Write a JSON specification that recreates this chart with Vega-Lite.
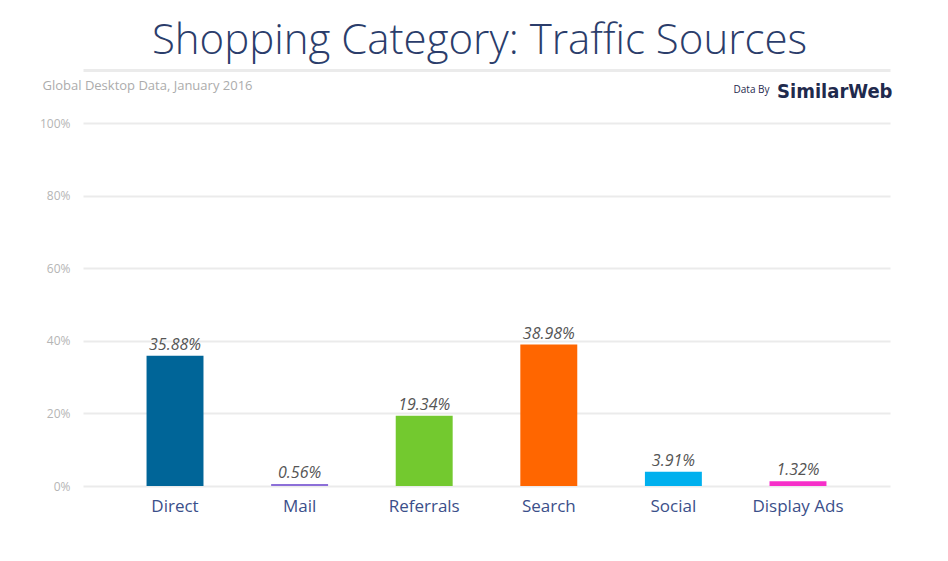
{
  "$schema": "https://vega.github.io/schema/vega-lite/v6.json",
  "width": 807,
  "height": 363,
  "autosize": {"type": "none"},
  "padding": {"left": 83, "top": 123, "right": 58, "bottom": 75},
  "background": "white",
  "config": {
    "font": "Open Sans",
    "view": {"stroke": null}
  },
  "title": {
    "text": "Shopping Category: Traffic Sources",
    "font": "Open Sans",
    "fontWeight": 300,
    "fontSize": 42,
    "color": "#2b3d6b",
    "anchor": "middle",
    "dx": -7,
    "baseline": "alphabetic",
    "offset": -26
  },
  "data": {
    "values": [
      {"source": "Direct", "share": 0.3588},
      {"source": "Mail", "share": 0.0056},
      {"source": "Referrals", "share": 0.1934},
      {"source": "Search", "share": 0.3898},
      {"source": "Social", "share": 0.0391},
      {"source": "Display Ads", "share": 0.0132}
    ]
  },
  "encoding": {
    "x": {
      "field": "source",
      "type": "nominal",
      "sort": null,
      "scale": {"paddingInner": 0.543, "paddingOuter": 0.51}
    },
    "y": {
      "field": "share",
      "type": "quantitative",
      "scale": {"domain": [0, 1], "nice": false}
    }
  },
  "layer": [
    {
      "mark": {"type": "bar"},
      "encoding": {
        "x": {
          "field": "source",
          "type": "nominal",
          "sort": null,
          "axis": {
            "orient": "bottom",
            "labelAngle": 0,
            "labelFont": "Open Sans",
            "labelFontSize": 17,
            "labelColor": "#3b4f8a",
            "labelPadding": 12,
            "ticks": false,
            "domain": false,
            "title": "SimilarWeb",
            "titleFont": "DejaVu Sans Condensed",
            "titleFontWeight": "bold",
            "titleFontSize": 20,
            "titleColor": "#1f2a4d",
            "titleAlign": "right",
            "titleBaseline": "alphabetic",
            "titleAnchor": "start",
            "titleX": 809,
            "titleY": -389
          }
        },
        "y": {
          "field": "share",
          "type": "quantitative",
          "axis": {
            "format": ".0%",
            "values": [0, 0.2, 0.4, 0.6, 0.8, 1],
            "labelFont": "Open Sans",
            "labelFontSize": 12,
            "labelColor": "#b5b5b5",
            "labelPadding": 13,
            "ticks": false,
            "domain": false,
            "grid": true,
            "gridColor": "#ebebeb",
            "gridWidth": 2,
            "title": "Global Desktop Data, January 2016",
            "titleFont": "Open Sans",
            "titleFontWeight": "normal",
            "titleFontSize": 13,
            "titleColor": "#acacac",
            "titleAngle": 0,
            "titleAlign": "left",
            "titleBaseline": "alphabetic",
            "titleX": -41,
            "titleY": -34
          }
        },
        "color": {
          "field": "source",
          "type": "nominal",
          "sort": null,
          "legend": null,
          "scale": {
            "domain": ["Direct", "Mail", "Referrals", "Search", "Social", "Display Ads"],
            "range": ["#006598", "#8c6fd8", "#73c92f", "#ff6600", "#00b0ee", "#f62fc9"]
          }
        }
      }
    },
    {
      "mark": {
        "type": "text",
        "baseline": "alphabetic",
        "dy": -6,
        "font": "Open Sans",
        "fontStyle": "italic",
        "fontSize": 16,
        "color": "#555555"
      },
      "encoding": {
        "x": {
          "field": "source",
          "type": "nominal",
          "sort": null,
          "axis": {
            "orient": "top",
            "offset": 53,
            "labels": false,
            "ticks": false,
            "grid": false,
            "domain": true,
            "domainColor": "#ebebeb",
            "domainWidth": 3,
            "title": "Data By",
            "titleFont": "Open Sans",
            "titleFontWeight": "normal",
            "titleFontSize": 10,
            "titleColor": "#1f2a4d",
            "titleAlign": "left",
            "titleBaseline": "alphabetic",
            "titleAnchor": "start",
            "titleX": 650,
            "titleY": 22
          }
        },
        "text": {"field": "share", "type": "quantitative", "format": ".2%"}
      }
    }
  ],
  "resolve": {"axis": {"x": "independent"}}
}
